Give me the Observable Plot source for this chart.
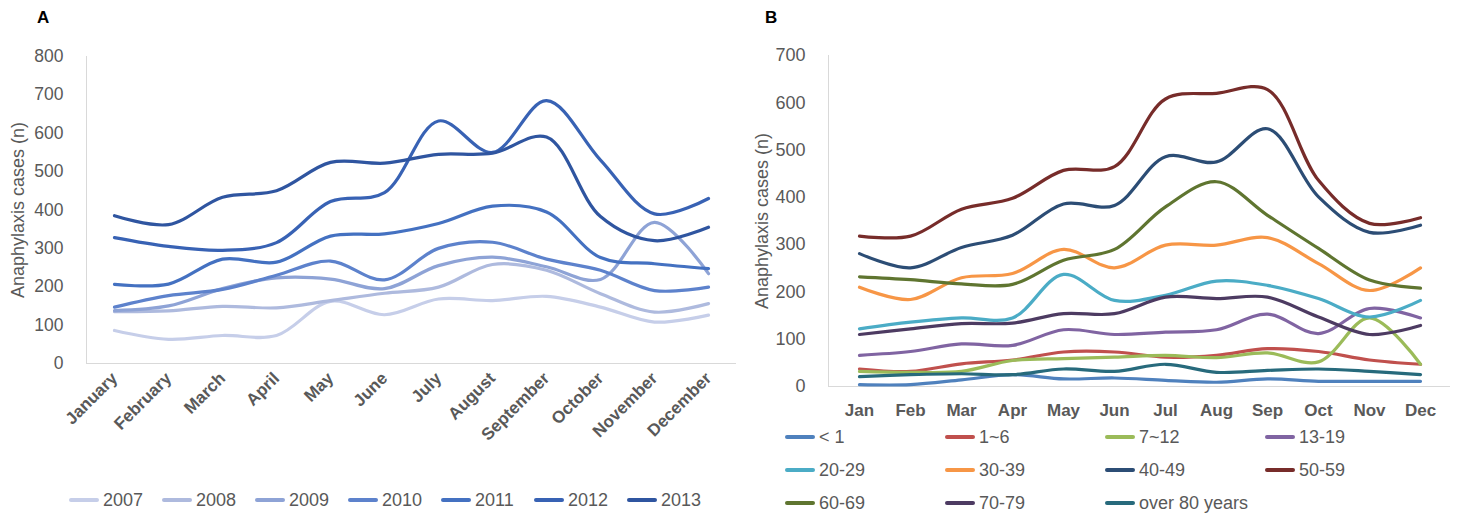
<!DOCTYPE html>
<html>
<head>
<meta charset="utf-8">
<script src="https://cdn.jsdelivr.net/npm/d3@7"></script>
<script src="https://cdn.jsdelivr.net/npm/@observablehq/plot@0.6"></script>
<style>
  html, body { margin: 0; padding: 0; background: #ffffff; }
  #root { position: relative; width: 1458px; height: 516px; font-family: "Liberation Sans", Arial, sans-serif; overflow: hidden; }
  .panel { position: absolute; top: 0; }
  .tag { position: absolute; font-weight: bold; font-size: 17px; color: #000; }
  .legend { position: absolute; color: #595959; }
  .item { position: absolute; display: flex; align-items: center; white-space: nowrap; }
  .swatch { display: inline-block; width: 30px; height: 4px; border-radius: 2px; margin-right: 4px; }
</style>
</head>
<body>
<div id="root">
  <div class="tag" style="left:37px; top:8px;">A</div>
  <div class="tag" style="left:765px; top:8px;">B</div>
  <div id="panelA" class="panel" style="left:0px;"></div>
  <div id="panelB" class="panel" style="left:740px;"></div>
  <div id="legendA" class="legend"></div>
  <div id="legendB" class="legend"></div>
</div>
<script>
// ---- Panel A: monthly anaphylaxis cases by year ----
const monthsLong = ["January", "February", "March", "April", "May", "June", "July", "August", "September", "October", "November", "December"];
const years = ["2007", "2008", "2009", "2010", "2011", "2012", "2013"];
const yearColors = ["#c6cee9", "#aebade", "#8ea3d6", "#5d82cc", "#4471c1", "#3862b4", "#2f55a0"];
const cases2007 = [86, 63, 73, 73, 162, 127, 168, 164, 175, 147, 108, 126];
const cases2008 = [135, 137, 149, 145, 164, 183, 199, 258, 243, 182, 134, 156];
const cases2009 = [138, 150, 195, 223, 220, 195, 255, 277, 252, 219, 368, 234];
const cases2010 = [147, 177, 193, 230, 267, 218, 300, 316, 272, 243, 190, 199];
const cases2011 = [206, 207, 272, 264, 332, 338, 365, 410, 395, 276, 260, 247];
const cases2012 = [328, 305, 295, 315, 422, 445, 632, 550, 685, 530, 390, 430];
const cases2013 = [385, 362, 433, 450, 524, 522, 545, 548, 590, 383, 320, 355];
const yTicksA = [0, 100, 200, 300, 400, 500, 600, 700, 800];

// ---- Panel B: monthly anaphylaxis cases by age group ----
const monthsShort = ["Jan", "Feb", "Mar", "Apr", "May", "Jun", "Jul", "Aug", "Sep", "Oct", "Nov", "Dec"];
const ageGroups = ["< 1", "1~6", "7~12", "13-19", "20-29", "30-39", "40-49", "50-59", "60-69", "70-79", "over 80 years"];
const ageColors = ["#4f81bd", "#c0504d", "#9bbb59", "#8064a2", "#4bacc6", "#f79646", "#2c4d75", "#772c2a", "#5f7530", "#4d3b62", "#276a7c"];
const ageUnder1 = [4, 4, 14, 25, 16, 18, 13, 9, 16, 11, 11, 11];
const age1to6 = [37, 32, 48, 56, 73, 73, 62, 66, 80, 74, 56, 47];
const age7to12 = [32, 30, 32, 55, 59, 62, 66, 61, 71, 52, 145, 47];
const age13to19 = [66, 74, 90, 87, 120, 110, 115, 120, 153, 112, 165, 145];
const age20to29 = [122, 136, 145, 145, 237, 182, 193, 223, 214, 186, 147, 182];
const age30to39 = [210, 184, 230, 239, 290, 251, 299, 299, 315, 260, 203, 251];
const age40to49 = [281, 251, 294, 320, 386, 383, 486, 475, 545, 401, 326, 341];
const age50to59 = [318, 318, 375, 398, 457, 465, 608, 620, 628, 436, 345, 357];
const age60to69 = [232, 226, 217, 216, 267, 290, 380, 433, 362, 292, 225, 208];
const age70to79 = [110, 122, 133, 134, 154, 154, 189, 186, 189, 147, 110, 129];
const ageOver80 = [21, 25, 27, 25, 37, 32, 47, 30, 34, 37, 32, 25];
const yTicksB = [0, 100, 200, 300, 400, 500, 600, 700];

const grey = "#595959";
const axisGrey = "#d9d9d9";

const seriesA = [cases2007, cases2008, cases2009, cases2010, cases2011, cases2012, cases2013];
const rowsA = seriesA.flatMap((vals, s) => vals.map((v, i) => ({month: monthsLong[i], year: years[s], value: v})));

const seriesB = [ageUnder1, age1to6, age7to12, age13to19, age20to29, age30to39, age40to49, age50to59, age60to69, age70to79, ageOver80];
const rowsB = seriesB.flatMap((vals, s) => vals.map((v, i) => ({month: monthsShort[i], group: ageGroups[s], value: v})));

const chartA = Plot.plot({
  width: 740, height: 480,
  marginLeft: 86, marginRight: 4, marginTop: 56, marginBottom: 117,
  style: {fontFamily: "Liberation Sans, Arial, sans-serif", background: "transparent"},
  x: {type: "point", domain: monthsLong, padding: 0.5},
  y: {domain: [0, 800]},
  color: {domain: years, range: yearColors},
  marks: [
    Plot.frame({anchor: "left", stroke: axisGrey}),
    Plot.ruleY([0], {stroke: axisGrey, strokeWidth: 1.2}),
    Plot.line(rowsA, {x: "month", y: "value", z: "year", stroke: "year", curve: "catmull-rom", strokeWidth: 3.2, strokeLinecap: "round"}),
    Plot.axisY({ticks: yTicksA, tickSize: 0, tickPadding: 23, fontSize: 17.5, fill: grey, label: null}),
    Plot.axisX({tickSize: 0, tickPadding: 12, tickRotate: -45, fontSize: 17, fontWeight: "bold", fill: grey, label: null}),
    Plot.text(["Anaphylaxis cases (n)"], {frameAnchor: "left", textAnchor: "middle", dx: -68, rotate: -90, fontSize: 18, fill: grey})
  ]
});
document.getElementById("panelA").appendChild(chartA);

const chartB = Plot.plot({
  width: 718, height: 430,
  marginLeft: 88, marginRight: 8, marginTop: 55, marginBottom: 44,
  style: {fontFamily: "Liberation Sans, Arial, sans-serif", background: "transparent"},
  x: {type: "point", domain: monthsShort, padding: 0.5},
  y: {domain: [0, 700]},
  color: {domain: ageGroups, range: ageColors},
  marks: [
    Plot.frame({anchor: "left", stroke: axisGrey}),
    Plot.ruleY([0], {stroke: axisGrey, strokeWidth: 1.2}),
    Plot.line(rowsB, {x: "month", y: "value", z: "group", stroke: "group", curve: "catmull-rom", strokeWidth: 3.2, strokeLinecap: "round"}),
    Plot.axisY({ticks: yTicksB, tickSize: 0, tickPadding: 23, fontSize: 18, fill: grey, label: null}),
    Plot.axisX({tickSize: 0, tickPadding: 17, fontSize: 17, fontWeight: "bold", fill: grey, label: null}),
    Plot.text(["Anaphylaxis cases (n)"], {frameAnchor: "left", textAnchor: "middle", dx: -66, rotate: -90, fontSize: 18, fill: grey})
  ]
});
document.getElementById("panelB").appendChild(chartB);

// ---- Legends ----
function addItem(parent, left, top, color, label, fontSize, family) {
  const item = document.createElement("div");
  item.className = "item";
  item.style.left = left + "px";
  item.style.top = top + "px";
  item.style.fontSize = fontSize + "px";
  item.style.fontFamily = family;
  item.style.height = "24px";
  const sw = document.createElement("span");
  sw.className = "swatch";
  sw.style.background = color;
  item.appendChild(sw);
  item.appendChild(document.createTextNode(label));
  parent.appendChild(item);
}

const legendA = document.getElementById("legendA");
years.forEach((y, i) => addItem(legendA, 69 + i * 93, 488, yearColors[i], y, 18, "Liberation Sans, Arial, sans-serif"));

const legendB = document.getElementById("legendB");
ageGroups.forEach((g, i) => {
  const col = i % 4, row = Math.floor(i / 4);
  addItem(legendB, 785 + col * 160, 425 + row * 33, ageColors[i], g, 18, "Liberation Sans Narrow, Liberation Sans, Arial, sans-serif");
});
</script>
</body>
</html>
